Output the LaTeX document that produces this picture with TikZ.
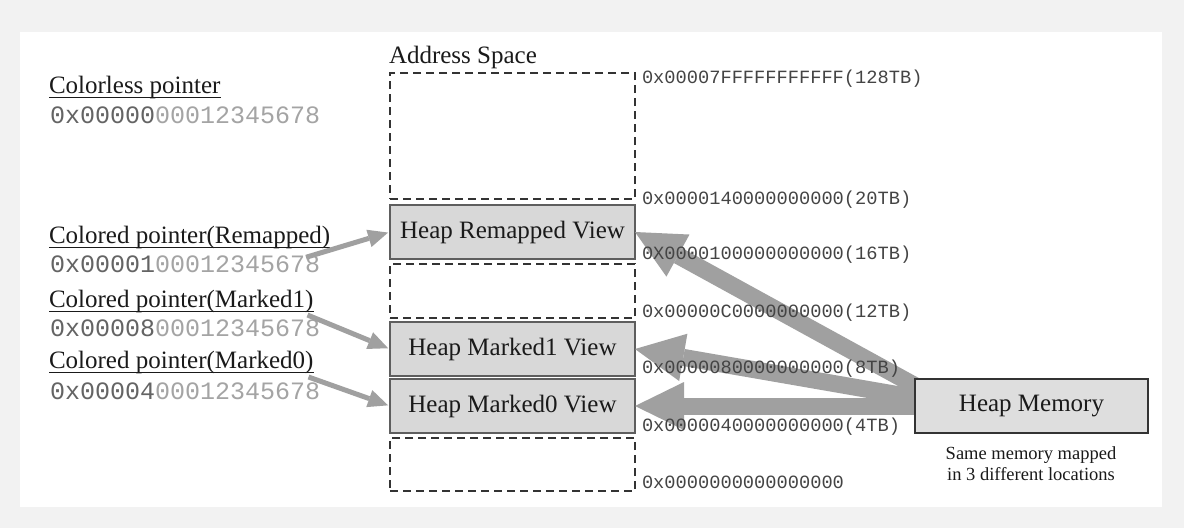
\documentclass[tikz,border=0pt]{standalone}
\usepackage{fontspec}
\setmainfont{Liberation Serif}
\setmonofont{Liberation Mono}
\usetikzlibrary{arrows.meta}
\definecolor{bg}{HTML}{F2F2F2}
\definecolor{txt}{HTML}{1A1A1A}
\definecolor{hexdark}{HTML}{646464}
\definecolor{hexlight}{HTML}{A4A4A4}
\definecolor{addr}{HTML}{444444}
\definecolor{arr}{HTML}{A0A0A0}
\definecolor{viewfill}{HTML}{D8D8D8}
\definecolor{viewdraw}{HTML}{5E5E5E}
\definecolor{dashcol}{HTML}{333333}
\newcommand\lblfont{\fontsize{25}{30}\selectfont}
\newcommand\hexfont{\ttfamily\fontsize{25}{30}\selectfont}
\newcommand\addrfont{\ttfamily\fontsize{18.7}{22}\selectfont}
\newcommand\captfont{\fontsize{18.5}{21.5}\selectfont}
\tikzset{
 txtnode/.style={inner sep=0pt, outer sep=0pt, anchor=base west, text=txt, font=\lblfont},
 hexnode/.style={inner sep=0pt, outer sep=0pt, anchor=base west, font=\hexfont},
 addrnode/.style={inner sep=0pt, outer sep=0pt, anchor=base west, font=\addrfont, text=addr},
 captnode/.style={inner sep=0pt, outer sep=0pt, anchor=base, font=\captfont, text=txt},
 dashbox/.style={draw=dashcol, line width=1.3pt, dash pattern=on 8pt off 5pt, minimum width=245pt, inner sep=0pt, outer sep=0pt, anchor=north west},
 viewbox/.style={draw=viewdraw, fill=viewfill, line width=2.2pt, minimum width=245pt, minimum height=54pt, inner sep=0pt, outer sep=0pt, anchor=north west, font=\lblfont, text=txt},
 heapbox/.style={draw=dashcol, fill=viewfill!85!white, line width=1.6pt, minimum width=233pt, minimum height=54pt, inner sep=0pt, outer sep=0pt, anchor=north west, font=\lblfont, text=txt},
 ptrarrow/.style={draw=arr, line width=5pt, -{Triangle[width=18pt,length=20pt,line width=0pt]}, shorten >=2pt},
 bigarrow/.style={draw=arr, line width=17pt, -{Triangle[width=48pt,length=49pt,line width=0pt]}},
 uline/.style={draw=txt, line width=1.4pt},
}
\begin{document}
\begin{tikzpicture}[x=1pt,y=-1pt]
\useasboundingbox (0,0) rectangle (1184,528);
\fill[bg] (0,0) rectangle (1184,528);
\fill[white] (20,32) rectangle (1162,507);

% address space column
\node[txtnode] (astitle) at (389,63) {Address Space};
\node[dashbox, minimum height=126pt] (d1) at (390,73) {};
\node[viewbox] (rem) at (390,205) {Heap Remapped View};
\node[dashbox, minimum height=54pt] (d2) at (390,264) {};
\node[viewbox] (m1) at (390,322) {Heap Marked1 View};
\node[viewbox] (m0) at (390,379) {Heap Marked0 View};
\node[dashbox, minimum height=53pt] (d3) at (390,438) {};

% pointers
\node[txtnode] (pcl) at (49,93) {Colorless pointer};
\node[hexnode] (hcl) at (50,123) {{\color{hexdark}0x00000}{\color{hexlight}00012345678}};
\node[txtnode] (prem) at (49,243) {Colored pointer(Remapped)};
\node[hexnode] (hrem) at (50,272) {{\color{hexdark}0x00001}{\color{hexlight}00012345678}};
\node[txtnode] (pm1) at (49,307) {Colored pointer(Marked1)};
\node[hexnode] (hm1) at (50,336) {{\color{hexdark}0x00008}{\color{hexlight}00012345678}};
\node[txtnode] (pm0) at (49,368) {Colored pointer(Marked0)};
\node[hexnode] (hm0) at (50,399) {{\color{hexdark}0x00004}{\color{hexlight}00012345678}};

\foreach \n in {pcl,prem,pm1,pm0}
  \draw[uline] ([yshift=-4.5pt]\n.base west) -- ([yshift=-4.5pt]\n.base east);

% pointer arrows
\draw[ptrarrow] ([xshift=-14pt,yshift=-2pt]hrem.north east) -- (rem.west);
\draw[ptrarrow] ([xshift=-6pt,yshift=-8pt]pm1.base east) -- (m1.west);
\draw[ptrarrow] ([xshift=-5pt,yshift=-9pt]pm0.base east) -- (m0.west);

% heap memory and mapping arrows
\coordinate (heapw) at (915,406);
\draw[bigarrow] ([xshift=8pt,yshift=16pt]heapw) -- (rem.east);
\draw[bigarrow] ([xshift=8pt,yshift=7pt]heapw) -- (m1.east);
\draw[bigarrow] ([xshift=4pt]heapw) -- (m0.east);
\node[heapbox] (heap) at (915,379) {Heap Memory};
\node[captnode] (cap1) at (1031,459) {Same memory mapped};
\node[captnode] (cap2) at (1031,480) {in 3 different locations};

% address labels (printed over the arrows)
\node[addrnode] (a128) at (642,83) {0x00007FFFFFFFFFFF(128TB)};
\node[addrnode] (a20) at (642,204) {0x0000140000000000(20TB)};
\node[addrnode] (a16) at (642,259) {0X0000100000000000(16TB)};
\node[addrnode] (a12) at (642,317) {0x00000C0000000000(12TB)};
\node[addrnode] (a8) at (642,373) {0x0000080000000000(8TB)};
\node[addrnode] (a4) at (642,431) {0x0000040000000000(4TB)};
\node[addrnode] (a0) at (642,488) {0x0000000000000000};
\end{tikzpicture}
\end{document}
